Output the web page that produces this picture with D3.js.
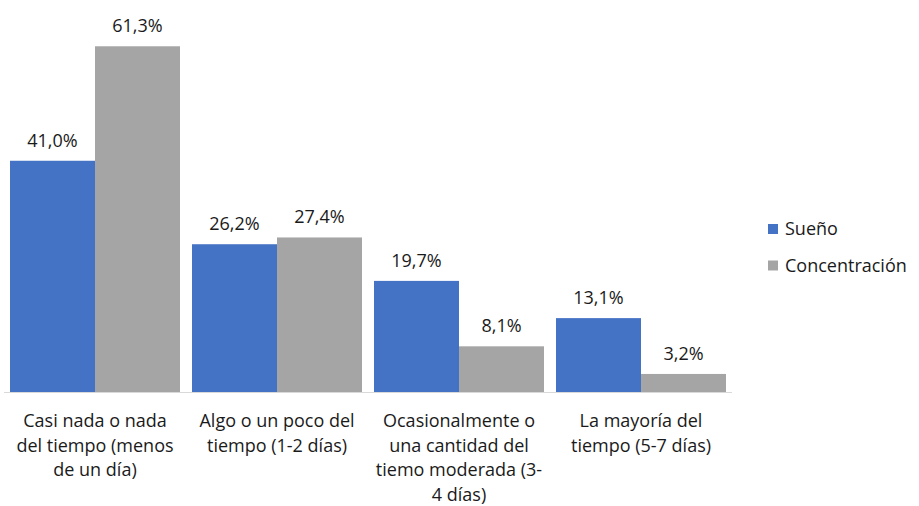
<!DOCTYPE html>
<html>
<head>
<meta charset="utf-8">
<script src="https://cdn.jsdelivr.net/npm/d3@7"></script>
<style>
  body { margin: 0; background: #fff; }
  svg { font-family: "Open Sans", "Lato", sans-serif; }
</style>
</head>
<body>
<div id="container"></div>
<script>
// Chart dimensions
const width = 919;
const height = 506;
const marginLeft = 4;
const plotRight = 732;
const baseline = 392;
const fontSize = "18px";

// Data
const categories = [
  ["Casi nada o nada", "del tiempo (menos", "de un día)"],
  ["Algo o un poco del", "tiempo (1-2 días)"],
  ["Ocasionalmente o", "una cantidad del", "tiemo moderada (3-", "4 días)"]
  , ["La mayoría del", "tiempo (5-7 días)"]
];
const seriesNames = ["Sueño", "Concentración"];
const sueno = [41.0, 26.2, 19.7, 13.1];
const concentracion = [61.3, 27.4, 8.1, 3.2];

const colorScale = d3.scaleOrdinal()
    .domain(seriesNames)
    .range(["#4472C4", "#A5A5A5"]);

const fmt = v => v.toFixed(1).replace(".", ",") + "%";

const svg = d3.select("#container").append("svg")
    .attr("width", width)
    .attr("height", height)
    .attr("viewBox", [0, 0, width, height]);

// Scales
const x0 = d3.scaleBand()
    .domain(d3.range(categories.length))
    .range([marginLeft, plotRight])
    .paddingInner(0.066)
    .paddingOuter(0.033);

const x1 = d3.scaleBand()
    .domain(seriesNames)
    .range([0, x0.bandwidth()]);

const y = d3.scaleLinear()
    .domain([0, 70])
    .range([baseline, baseline - 70 * 5.64]);

const rows = categories.map((c, i) => ({
  i,
  values: [
    { key: "Sueño", value: sueno[i] },
    { key: "Concentración", value: concentracion[i] }
  ]
}));

const groups = svg.append("g")
  .selectAll("g")
  .data(rows)
  .join("g")
    .attr("transform", d => `translate(${x0(d.i)},0)`);

groups.selectAll("rect")
  .data(d => d.values)
  .join("rect")
    .attr("x", d => x1(d.key))
    .attr("y", d => y(d.value))
    .attr("width", x1.bandwidth())
    .attr("height", d => y(0) - y(d.value))
    .attr("fill", d => colorScale(d.key));

groups.selectAll("text")
  .data(d => d.values)
  .join("text")
    .attr("x", d => x1(d.key) + x1.bandwidth() / 2)
    .attr("y", d => y(d.value) - 14)
    .attr("text-anchor", "middle")
    .attr("fill", "#1a1a1a")
    .style("font-size", fontSize)
    .text(d => fmt(d.value));

// X axis (line only, labels drawn below)
svg.append("line")
    .attr("x1", marginLeft)
    .attr("x2", plotRight)
    .attr("y1", y(0) + 0.5)
    .attr("y2", y(0) + 0.5)
    .attr("stroke", "#d9d9d9")
    .attr("stroke-width", 1);

const labels = svg.append("g")
  .selectAll("text")
  .data(categories)
  .join("text")
    .attr("x", (d, i) => x0(i) + x0.bandwidth() / 2)
    .attr("y", 427)
    .attr("text-anchor", "middle")
    .attr("fill", "#1a1a1a")
    .style("font-size", fontSize);

labels.selectAll("tspan")
  .data(d => d)
  .join("tspan")
    .attr("x", function() { return this.parentNode.getAttribute("x"); })
    .attr("dy", (d, i) => i === 0 ? 0 : 24.7)
    .text(d => d);

// Legend
const legend = svg.append("g")
    .attr("transform", "translate(768,224)");

seriesNames.forEach((name, i) => {
  const row = legend.append("g")
      .attr("transform", `translate(0, ${i * 36.5})`);
  row.append("rect")
      .attr("width", 10)
      .attr("height", 10)
      .attr("fill", colorScale(name));
  row.append("text")
      .attr("x", 17)
      .attr("y", 11)
      .attr("fill", "#1a1a1a")
      .style("font-size", fontSize)
      .text(name);
});
</script>
</body>
</html>
